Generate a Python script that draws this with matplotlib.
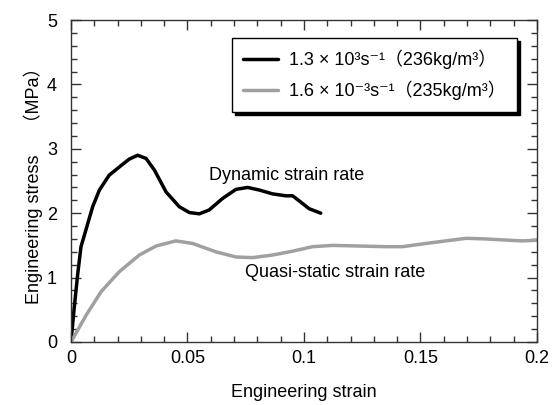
import matplotlib
matplotlib.use("Agg")
import matplotlib.pyplot as plt
from matplotlib.ticker import MultipleLocator, FuncFormatter

plt.rcParams['font.family'] = ['Liberation Sans', 'DejaVu Sans', 'Noto Sans CJK SC']

# dynamic test, 1.3e3 /s
dyn_strain = [0.0, 0.0014, 0.0029, 0.0043, 0.0064, 0.0093, 0.0122, 0.0164, 0.0215,
              0.0250, 0.0286, 0.0322, 0.0358, 0.0408, 0.0465, 0.0508, 0.0551, 0.0593,
              0.0651, 0.0708, 0.0758, 0.0808, 0.0865, 0.0922, 0.0951, 0.0980, 0.1022,
              0.1072]
dyn_stress = [0.0, 0.54, 1.06, 1.48, 1.74, 2.10, 2.36, 2.59, 2.74,
              2.84, 2.90, 2.85, 2.67, 2.33, 2.10, 2.01, 1.99, 2.05,
              2.23, 2.37, 2.40, 2.36, 2.30, 2.27, 2.27, 2.19, 2.07,
              2.00]

# quasi-static test, 1.6e-3 /s
qs_strain = [0.0, 0.0064, 0.0129, 0.0207, 0.0293, 0.0365, 0.0450, 0.0522, 0.0622,
             0.0708, 0.0779, 0.0865, 0.0951, 0.1037, 0.1123, 0.1237, 0.1351, 0.1423,
             0.1523, 0.1609, 0.1695, 0.1780, 0.1880, 0.1938, 0.2]
qs_stress = [0.0, 0.41, 0.78, 1.09, 1.35, 1.49, 1.57, 1.53, 1.40,
             1.32, 1.31, 1.35, 1.41, 1.48, 1.50, 1.49, 1.48, 1.48,
             1.53, 1.57, 1.61, 1.60, 1.58, 1.57, 1.58]

labels = ["1.3 × 10³s⁻¹（236kg/m³）", "1.6 × 10⁻³s⁻¹（235kg/m³）"]

fs = 13

fig = plt.figure(figsize=(5.52, 4.05), dpi=100)
ax = fig.add_axes([0.1286, 0.1556, 0.8442, 0.795])

ax.plot(dyn_strain, dyn_stress, color='black', lw=2.5, label=labels[0],
        solid_joinstyle='round', solid_capstyle='round')
ax.plot(qs_strain, qs_stress, color='#a0a0a0', lw=2.5, label=labels[1],
        solid_joinstyle='round', solid_capstyle='round')

ax.set_xlim(0, 0.2)
ax.set_ylim(0, 5)
ax.xaxis.set_major_locator(MultipleLocator(0.05))
ax.xaxis.set_minor_locator(MultipleLocator(0.01))
ax.yaxis.set_major_locator(MultipleLocator(1))
ax.yaxis.set_minor_locator(MultipleLocator(0.2))
ax.xaxis.set_major_formatter(FuncFormatter(lambda v, p: "%g" % round(v, 3)))

for s in ax.spines.values():
    s.set_color('#333333')
    s.set_linewidth(1.0)
ax.tick_params(which='both', direction='in', top=True, right=True, colors='#333333',
               labelcolor='black', labelsize=fs, width=1.0)
ax.tick_params(which='major', length=7)
ax.tick_params(which='minor', length=4.3)
ax.tick_params(axis='x', pad=6)
ax.tick_params(axis='y', pad=10)

ax.set_xlabel("Engineering strain", fontsize=fs, labelpad=12)
ax.set_ylabel("Engineering stress　 （MPa）", fontsize=fs, labelpad=3)

ax.text(0.0592, 2.52, "Dynamic strain rate", fontsize=fs, ha='left', va='baseline')
ax.text(0.0747, 1.016, "Quasi-static strain rate", fontsize=fs, ha='left', va='baseline')

leg = ax.legend(loc='upper left', bbox_to_anchor=(0.345, 0.944), borderaxespad=0,
                fontsize=fs, frameon=True, fancybox=False, edgecolor='black',
                handlelength=1.9, handletextpad=0.6, borderpad=0.65, labelspacing=0.65,
                shadow={'ox': 2.2, 'oy': -2.2, 'color': 'black', 'alpha': 1})
leg.get_frame().set_linewidth(1.0)
leg.get_frame().set_alpha(1)

fig.savefig("out.png", dpi=100)
